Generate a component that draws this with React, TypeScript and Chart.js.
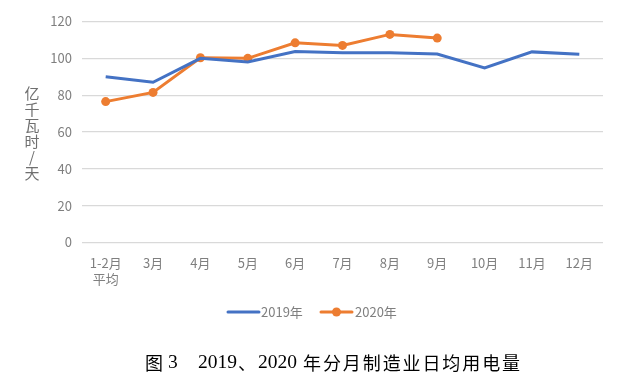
import React, { useEffect, useRef } from "react";
import { Chart, registerables } from "chart.js";

Chart.register(...registerables);

const categories: (string | string[])[] = [["1-2月", "平均"], "3月", "4月", "5月", "6月", "7月", "8月", "9月", "10月", "11月", "12月"];
const series2019 = [90, 87, 100, 98, 103.7, 103, 103, 102.3, 94.8, 103.5, 102.2];
const series2020 = [76.5, 81.5, 100.3, 100, 108.4, 107, 113, 111, null, null, null];
const yTicks = [0, 20, 40, 60, 80, 100, 120];
const yTitle = "亿千瓦时/天";
const legendLabels = ["2019年", "2020年"];
const captionParts = ["图", "3", "2019", "、", "2020", "年分月制造业日均用电量"];

const BLUE = "#4472C4";
const ORANGE = "#ED7D31";
const TEXT = "#7f7f7f";
const SANS = "'Noto Sans CJK SC', 'Noto Sans', sans-serif";

const overlay = {
  id: "overlay",
  afterDraw(chart: any) {
    const ctx = chart.ctx as CanvasRenderingContext2D;
    ctx.save();
    // y axis title (stacked upright characters)
    ctx.fillStyle = "#6f6f6f";
    ctx.font = `15px ${SANS}`;
    ctx.textAlign = "center";
    ctx.textBaseline = "middle";
    const chars = Array.from(yTitle);
    const step = 16;
    const cy = 133;
    chars.forEach((c, i) => {
      ctx.fillText(c, 32, cy + (i - (chars.length - 1) / 2) * step);
    });
    // legend
    const ly = 312;
    ctx.font = `13px ${SANS}`;
    ctx.textAlign = "left";
    ctx.lineWidth = 3;
    ctx.lineCap = "round";
    ctx.strokeStyle = BLUE;
    ctx.beginPath();
    ctx.moveTo(228, ly);
    ctx.lineTo(259, ly);
    ctx.stroke();
    ctx.fillStyle = TEXT;
    ctx.fillText(legendLabels[0], 261, ly);
    ctx.strokeStyle = ORANGE;
    ctx.beginPath();
    ctx.moveTo(321, ly);
    ctx.lineTo(352, ly);
    ctx.stroke();
    ctx.fillStyle = ORANGE;
    ctx.beginPath();
    ctx.arc(336.5, ly, 4.5, 0, Math.PI * 2);
    ctx.fill();
    ctx.fillStyle = TEXT;
    ctx.fillText(legendLabels[1], 355, ly);
    // caption
    const capY = 363;
    ctx.fillStyle = "#000";
    const cjk = `18px 'Noto Sans CJK SC', sans-serif`;
    const num = `19.5px 'Liberation Serif', serif`;
    ctx.font = cjk;
    ctx.fillText(captionParts[0], 145, capY);
    ctx.font = num;
    ctx.fillText(captionParts[1], 168, capY);
    ctx.fillText(captionParts[2], 198, capY);
    ctx.font = cjk;
    ctx.fillText(captionParts[3], 238, capY);
    ctx.font = num;
    ctx.fillText(captionParts[4], 258, capY);
    ctx.font = cjk;
    const rest = Array.from(captionParts[5]);
    const w = (522 - 303) / rest.length;
    rest.forEach((c, i) => ctx.fillText(c, 303 + i * w, capY));
    ctx.restore();
  },
};

export default function App() {
  const ref = useRef<HTMLCanvasElement>(null);
  useEffect(() => {
    if (!ref.current) return;
    const chart = new Chart(ref.current, {
      type: "line",
      data: {
        labels: categories as any,
        datasets: [
          {
            label: legendLabels[0],
            data: series2019,
            borderColor: BLUE,
            backgroundColor: BLUE,
            borderWidth: 3,
            pointRadius: 0,
            tension: 0,
          },
          {
            label: legendLabels[1],
            data: series2020 as any,
            borderColor: ORANGE,
            backgroundColor: ORANGE,
            borderWidth: 3,
            pointRadius: 4.5,
            pointBorderWidth: 0,
            tension: 0,
            spanGaps: false,
          },
        ],
      },
      options: {
        animation: false,
        responsive: false,
        layout: { padding: { left: 0, top: 21.5, right: 27, bottom: 0 } },
        plugins: {
          legend: { display: false },
          tooltip: { enabled: false },
        },
        scales: {
          x: {
            offset: true,
            grid: { display: false },
            border: { display: false },
            ticks: {
              color: TEXT,
              font: { size: 13, family: SANS },
              maxRotation: 0,
              autoSkip: false,
              padding: 5,
            },
            afterFit: (s: any) => {
              s.height = 136.5;
            },
          },
          y: {
            min: 0,
            max: 120,
            afterBuildTicks: (s: any) => {
              s.ticks = yTicks.map((v) => ({ value: v }));
            },
            grid: { color: "#d9d9d9", lineWidth: 1.3, drawTicks: false },
            border: { display: false },
            ticks: {
              color: TEXT,
              font: { size: 13, family: SANS },
              padding: 10,
            },
            afterFit: (s: any) => {
              s.width = 82;
            },
          },
        },
      },
      plugins: [overlay],
    });
    return () => chart.destroy();
  }, []);
  return (
    <div style={{ position: "fixed", left: 0, top: 0, width: 630, height: 379, background: "#fff" }}>
      <canvas ref={ref} width={630} height={379} style={{ width: 630, height: 379 }} />
    </div>
  );
}
